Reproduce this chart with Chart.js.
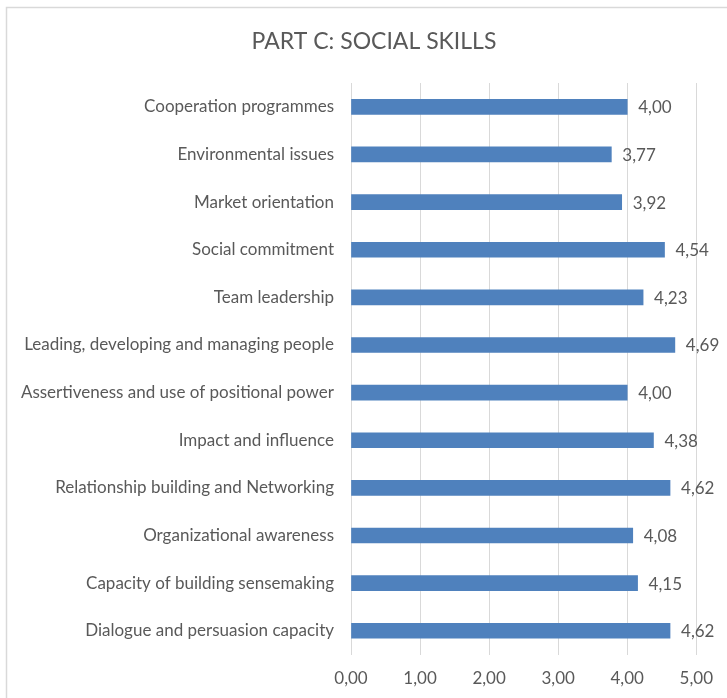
<!DOCTYPE html>
<html>
<head>
<meta charset="utf-8">
<script src="https://cdn.jsdelivr.net/npm/chart.js@4"></script>
<style>
  html, body { margin: 0; padding: 0; background: #fff; }
  #wrap { width: 727px; height: 698px; position: relative; }
</style>
</head>
<body>
<div id="wrap"><canvas id="myChart" width="727" height="698"></canvas></div>
<script>
const chartTitle = 'PART C: SOCIAL SKILLS'
const skills = [
  'Cooperation programmes',
  'Environmental issues',
  'Market orientation',
  'Social commitment',
  'Team leadership',
  'Leading, developing and managing people',
  'Assertiveness and use of positional power',
  'Impact and influence',
  'Relationship building and Networking',
  'Organizational awareness',
  'Capacity of building sensemaking',
  'Dialogue and persuasion capacity'
]
const scores = [4.00, 3.77, 3.92, 4.54, 4.23, 4.69, 4.00, 4.38, 4.62, 4.08, 4.15, 4.62]
const xTicks = [0, 1, 2, 3, 4, 5]

const FONT = 'Lato, "Open Sans", sans-serif'
const TEXT = '#595959'

const fmt = (v) => v.toFixed(2).replace('.', ',')

// white background, light grey frame and the title
const frame = {
  id: 'frame',
  beforeDraw: (chart) => {
    const ctx = chart.ctx
    ctx.save()
    ctx.fillStyle = '#fff'
    ctx.fillRect(0, 0, chart.width, chart.height)
    ctx.strokeStyle = '#d9d9d9'
    ctx.lineWidth = 1.5
    ctx.strokeRect(6.5, 7.5, 900, 900)
    ctx.font = '23px ' + FONT
    ctx.fillStyle = TEXT
    ctx.textAlign = 'center'
    ctx.textBaseline = 'middle'
    ctx.fillText(chartTitle, 374, 42)
    ctx.restore()
  }
}

// value labels at the end of each bar
const valueLabels = {
  id: 'valueLabels',
  afterDatasetsDraw: (chart) => {
    const ctx = chart.ctx
    const meta = chart.getDatasetMeta(0)
    ctx.save()
    ctx.font = '17px ' + FONT
    ctx.fillStyle = TEXT
    ctx.textAlign = 'left'
    ctx.textBaseline = 'middle'
    meta.data.forEach((bar, i) => {
      ctx.fillText(fmt(scores[i]), bar.x + 11, bar.y + 1)
    })
    ctx.restore()
  }
}

const drawChart = () => {
  const ctx = document.getElementById('myChart').getContext('2d')
  new Chart(ctx, {
    type: 'bar',
    data: {
      labels: skills,
      datasets: [{
        data: scores,
        backgroundColor: '#4f81bd',
        borderWidth: 0,
        barThickness: 15
      }]
    },
    options: {
      indexAxis: 'y',
      responsive: false,
      animation: false,
      layout: { padding: { left: 0, right: 25, top: 83, bottom: -5 } },
      plugins: {
        legend: { display: false },
        tooltip: { enabled: false },
        title: { display: false }
      },
      scales: {
        x: {
          min: 0,
          max: 5,
          afterBuildTicks: (axis) => { axis.ticks = xTicks.map(v => ({ value: v })) },
          ticks: {
            color: TEXT,
            font: { family: FONT, size: 17 },
            padding: 14,
            callback: (v) => fmt(v)
          },
          grid: { color: '#d9d9d9', lineWidth: 1, drawTicks: false },
          border: { display: false }
        },
        y: {
          afterFit: (axis) => { axis.width = 351 },
          ticks: {
            color: TEXT,
            font: { family: FONT, size: 17 },
            padding: 17,
            autoSkip: false
          },
          grid: { display: false, drawTicks: false },
          border: { display: true, color: '#d9d9d9' }
        }
      }
    },
    plugins: [frame, valueLabels]
  })
}

window.addEventListener('load', drawChart)
</script>
</body>
</html>
